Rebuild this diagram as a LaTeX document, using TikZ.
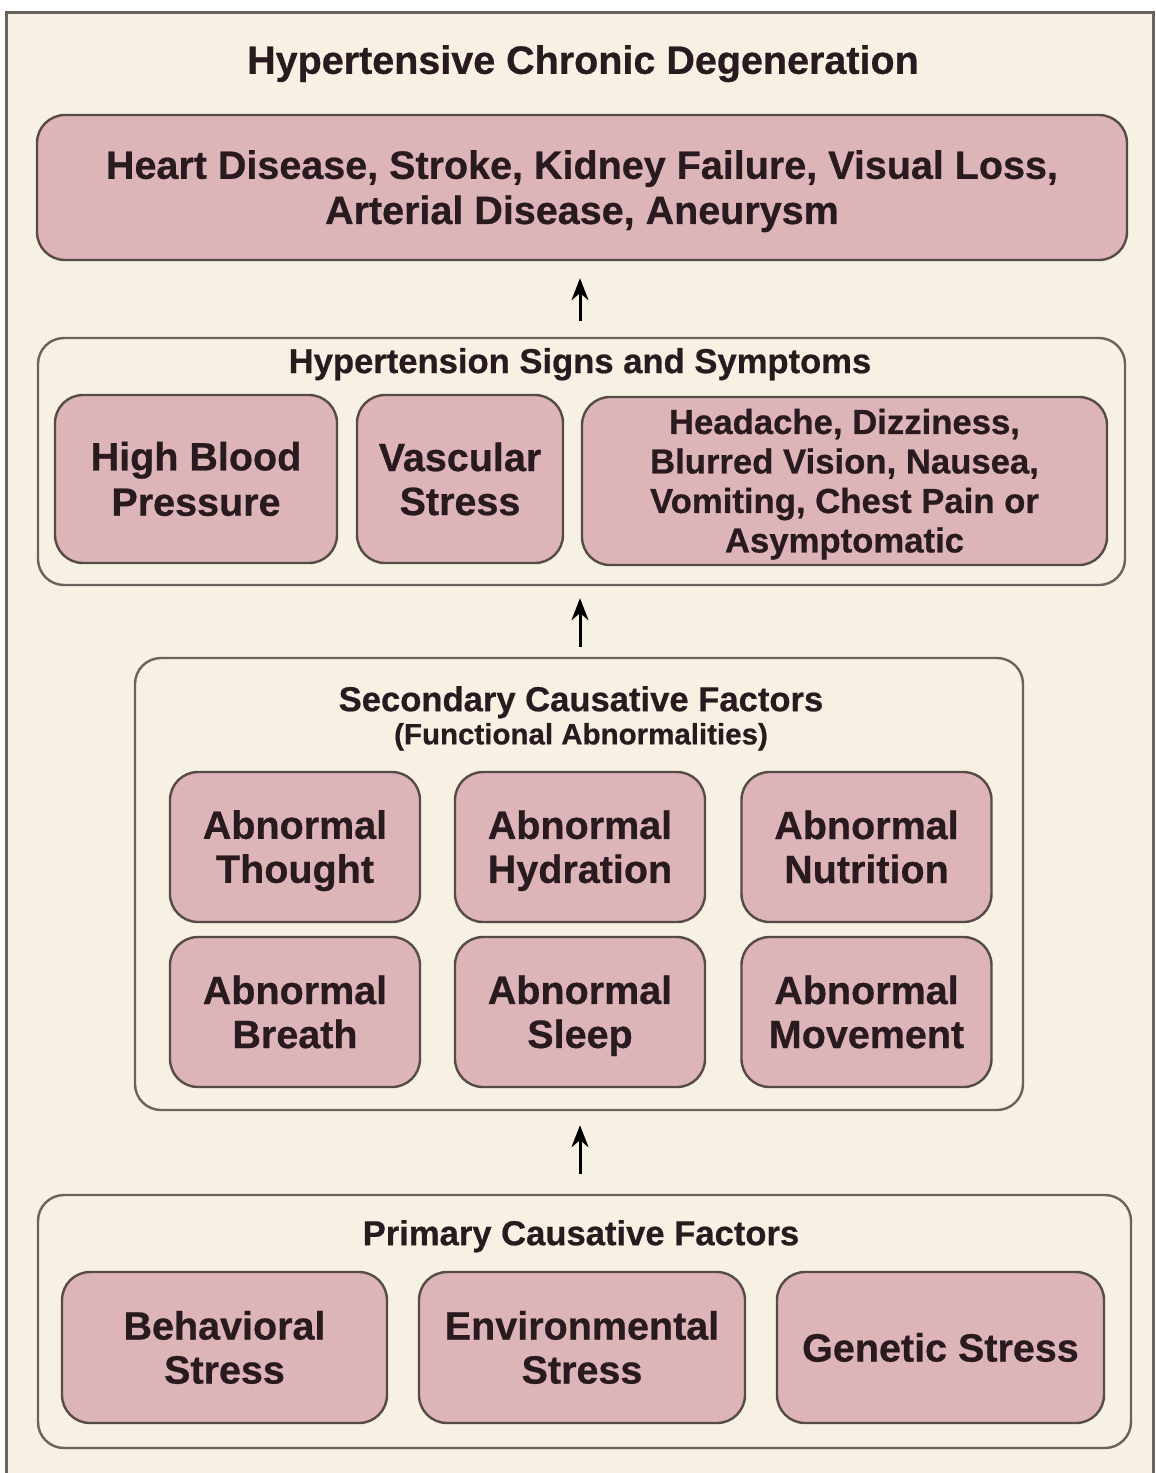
\documentclass[tikz,border=0pt]{standalone}
\usepackage{fontspec}
\setmainfont{Liberation Sans}[BoldFeatures={FakeBold=0.6}]
\usetikzlibrary{arrows.meta}
\definecolor{bgcream}{HTML}{F6F1E3}
\definecolor{pinkfill}{HTML}{DDB5B8}
\definecolor{edgec}{HTML}{574B48}
\definecolor{groupedge}{HTML}{6A625C}
\definecolor{txt}{HTML}{281A1E}
\newcommand{\cs}{\rule[-0.199em]{0pt}{1.11em}}
\tikzset{
  pbox/.style={draw=edgec, line width=2.4pt, fill=pinkfill, rounded corners=28pt,
    inner sep=0pt, align=center, text=txt,
    font=\bfseries\fontsize{39.5}{44}\selectfont},
  gbox/.style={draw=groupedge, line width=2.4pt, rounded corners=26pt, inner sep=0pt},
  gtitle/.style={text=txt, font=\bfseries\fontsize{34.6}{38}\selectfont, inner sep=0pt},
  arr/.style={line width=3pt, draw=black, -{Stealth[length=22pt,width=17pt]}}
}
\begin{document}
\begin{tikzpicture}[x=1pt,y=-1pt]
\useasboundingbox (0,0) rectangle (1156,1473);
\fill[white] (0,0) rectangle (1156,1473);
\draw[fill=bgcream, draw=groupedge, line width=3pt] (6,12) rectangle (1153,1490);

\node[text=txt, font=\bfseries\fontsize{39.5}{42}\selectfont, inner sep=0pt] (title) at (583,60) {\cs Hypertensive Chronic Degeneration};

\node[pbox, minimum width=1090pt, minimum height=145pt] (top) at (582,187.5)
  {\cs Heart Disease, Stroke, Kidney Failure, Visual Loss,\\\cs Arterial Disease, Aneurysm};

% group 2
\node[gbox, minimum width=1087pt, minimum height=247pt] (g2) at (581.5,461.5) {};
\node[gtitle] (g2t) at (580,361) {\cs Hypertension Signs and Symptoms};
\node[pbox, minimum width=282pt, minimum height=168pt] (hbp) at (196,479) {\cs High Blood\\\cs Pressure};
\node[pbox, minimum width=206pt, minimum height=168pt] (vas) at (460,479) {\cs Vascular\\\cs Stress};
\node[pbox, minimum width=525pt, minimum height=168pt, font=\bfseries\fontsize{34.7}{39.5}\selectfont] (sym) at (844.5,481)
  {\cs Headache, Dizziness,\\\cs Blurred Vision, Nausea,\\\cs Vomiting, Chest Pain or\\\cs Asymptomatic};

% group 3
\node[gbox, minimum width=888pt, minimum height=452pt] (g3) at (579,884) {};
\node[gtitle] (g3t) at (581,699) {\cs Secondary Causative Factors};
\node[text=txt, font=\bfseries\fontsize{29.5}{32}\selectfont, inner sep=0pt] (g3s) at (581,734) {\cs (Functional Abnormalities)};
\node[pbox, minimum width=250pt, minimum height=150pt] (thought) at (295,847) {\cs Abnormal\\\cs Thought};
\node[pbox, minimum width=250pt, minimum height=150pt] (hydr) at (580,847) {\cs Abnormal\\\cs Hydration};
\node[pbox, minimum width=250pt, minimum height=150pt] (nutr) at (866.5,847) {\cs Abnormal\\\cs Nutrition};
\node[pbox, minimum width=250pt, minimum height=150pt] (breath) at (295,1012) {\cs Abnormal\\\cs Breath};
\node[pbox, minimum width=250pt, minimum height=150pt] (sleep) at (580,1012) {\cs Abnormal\\\cs Sleep};
\node[pbox, minimum width=250pt, minimum height=150pt] (move) at (866.5,1012) {\cs Abnormal\\\cs Movement};

% group 4
\node[gbox, minimum width=1093pt, minimum height=253pt] (g4) at (584.5,1321.5) {};
\node[gtitle] (g4t) at (581,1233) {\cs Primary Causative Factors};
\node[pbox, minimum width=325pt, minimum height=151pt] (beh) at (224.5,1347.5) {\cs Behavioral\\\cs Stress};
\node[pbox, minimum width=326pt, minimum height=151pt] (env) at (582,1347.5) {\cs Environmental\\\cs Stress};
\node[pbox, minimum width=327pt, minimum height=151pt] (gen) at (940.5,1347.5) {\cs Genetic Stress};

% arrows
\coordinate (a1) at (580,0);
\draw[arr] ([yshift=16pt]g2.north -| a1) -- ([yshift=-17pt]top.south -| a1);
\draw[arr] ([yshift=10pt]g3.north -| a1) -- ([yshift=-12pt]g2.south -| a1);
\draw[arr] ([yshift=20pt]g4.north -| a1) -- ([yshift=-14pt]g3.south -| a1);
\end{tikzpicture}
\end{document}
